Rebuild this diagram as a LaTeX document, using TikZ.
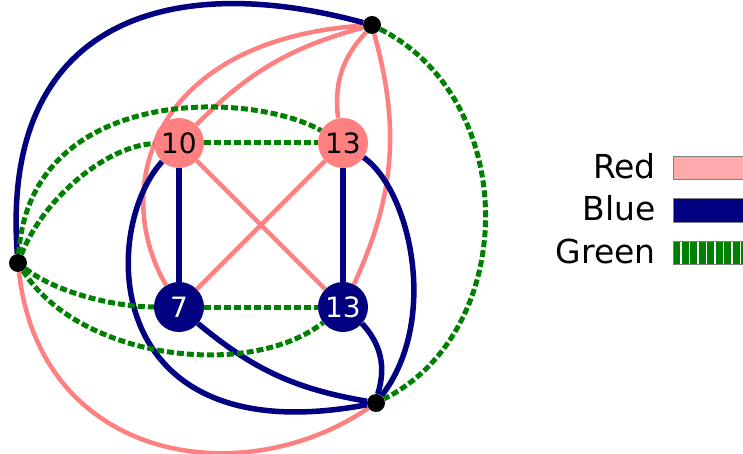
\documentclass[tikz,border=0pt]{standalone}
\usepackage{fontspec}
\setmainfont{DejaVu Sans}
\definecolor{redgr}{HTML}{FF8080}
\definecolor{redkey}{HTML}{FFAAAA}
\definecolor{bluegr}{HTML}{000080}
\definecolor{greengr}{HTML}{008000}

\begin{document}
\begin{tikzpicture}[x=1pt, y=1pt, font=\fontsize{28}{34}\selectfont,
        vtx/.style={circle, minimum size=50pt, inner sep=0pt},
        blackdot/.style={circle, fill=black, minimum size=18pt, inner sep=0pt},
        redge/.style={line width=4.5pt, redgr},
        bedge/.style={line width=5.5pt, bluegr},
        gedge/.style={line width=5pt, greengr, dash pattern=on 7pt off 3pt}]
        \useasboundingbox (0,0) rectangle (743,-454);
        % vertices
        \node[vtx, fill=redgr] (n10) at (179,-143) {10};
        \node[vtx, fill=redgr] (n13a) at (343,-143) {13};
        \node[vtx, fill=bluegr, text=white] (n7) at (179,-307) {7};
        \node[vtx, fill=bluegr, text=white] (n13b) at (343,-307) {13};
        \node[blackdot] (top) at (372,-25) {};
        \node[blackdot] (left) at (18,-263) {};
        \node[blackdot] (bot) at (376,-403) {};
        % red edges
        \draw[redge] (n10) to[bend left=15] (top);
        \draw[redge] (n13a) to[bend left=25] (top);
        \draw[redge] (top) to[bend left=20] (n13b);
        \draw[redge] (top) .. controls (150,-40) and (110,-190) .. (n7);
        \draw[redge] (n10) -- (n13b);
        \draw[redge] (n13a) -- (n7);
        \draw[redge] (left) .. controls (40,-460) and (240,-495) .. (bot);
        % blue edges
        \draw[bedge] (top) .. controls (170,30) and (0,-20) .. (left);
        \draw[bedge] (n10) -- (n7);
        \draw[bedge] (n13a) -- (n13b);
        \draw[bedge] (n10) .. controls (100,-230) and (100,-455) .. (bot);
        \draw[bedge] (n7) to[bend right=15] (bot);
        \draw[bedge] (n13b) to[bend left=30] (bot);
        \draw[bedge] (n13a) .. controls (410,-190) and (440,-320) .. (bot);
        % green edges
        \draw[gedge] (n10) -- (n13a);
        \draw[gedge] (n7) -- (n13b);
        \draw[gedge] (left) .. controls (45,-195) and (110,-145) .. (n10);
        \draw[gedge] (left) .. controls (30,-85) and (250,-90) .. (n13a);
        \draw[gedge] (left) .. controls (60,-295) and (120,-307) .. (n7);
        \draw[gedge] (left) .. controls (80,-360) and (250,-380) .. (n13b);
        \draw[gedge] (top) .. controls (520,-100) and (520,-330) .. (bot);
        % legend
        \foreach \yy/\lbl in {179/Red, 221/Blue, 263/Green}
            \node[anchor=base east, inner sep=0pt, font=\fontsize{33}{38}\selectfont] (key\lbl) at (656,-\yy) {\lbl};
        \filldraw[fill=redkey, draw=gray, line width=1pt] (673,-157) rectangle (750,-180);
        \filldraw[fill=bluegr, draw=gray, line width=1pt] (673,-199) rectangle (750,-222);
        \draw[greengr, line width=23pt, dash pattern=on 7pt off 1.5pt] (673,-252.5) -- (750,-252.5);
        \draw[gray, line width=1pt] (673,-241) rectangle (750,-264);
    \end{tikzpicture}
\end{document}
